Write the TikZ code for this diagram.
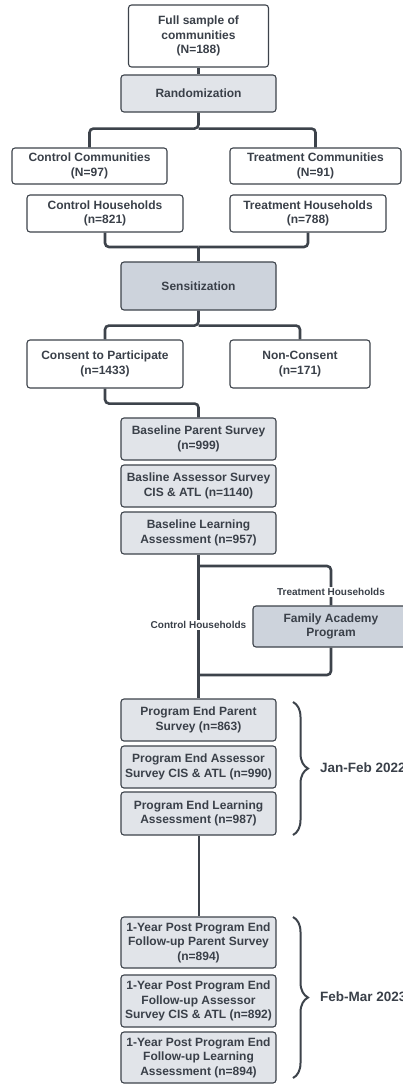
\documentclass[tikz,border=0pt]{standalone}
\usepackage{fontspec}
\setmainfont{Liberation Sans}
\usetikzlibrary{decorations.pathreplacing}
\definecolor{txt}{HTML}{3A4049}
\definecolor{edge}{HTML}{3D434B}
\definecolor{lightfill}{HTML}{E1E4E9}
\definecolor{darkfill}{HTML}{CDD3DC}
\tikzset{
  box/.style={draw=edge, line width=1.1pt, rounded corners=3pt, fill=white, text=txt,
    font=\bfseries\fontsize{12}{14.5}\selectfont, align=center, inner sep=0pt},
  lbox/.style={box, fill=lightfill},
  dbox/.style={box, fill=darkfill},
  conn/.style={draw=edge, line width=2.6pt, rounded corners=4pt},
  thinconn/.style={draw=edge, line width=2pt},
  lbl/.style={fill=white, text=txt, font=\bfseries\fontsize{10}{12}\selectfont, inner sep=1pt},
  period/.style={text=txt, font=\bfseries\fontsize{13.5}{16}\selectfont, anchor=west, inner sep=0pt},
  brc/.style={draw=edge, line width=2pt, decorate, decoration={brace, amplitude=15pt}}
}
\begin{document}
\begin{tikzpicture}[x=1pt, y=-1pt]
\useasboundingbox (0,0) rectangle (403,1084);
\fill[white] (0,0) rectangle (403,1084);

% nodes
\node[box, minimum width=140pt, minimum height=62pt] (full) at (198.5,36) {Full sample of\\communities\\(N=188)};
\node[lbox, minimum width=155pt, minimum height=37pt] (rand) at (198.5,93.5) {Randomization};
\node[box, minimum width=155pt, minimum height=36pt] (cc) at (89.5,166) {Control Communities\\(N=97)};
\node[box, minimum width=171pt, minimum height=36pt] (tc) at (315.5,166) {Treatment Communities\\(N=91)};
\node[box, minimum width=156pt, minimum height=37pt] (ch) at (105,213.5) {Control Households\\(n=821)};
\node[box, minimum width=156pt, minimum height=37pt] (th) at (308,213.5) {Treatment Households\\(n=788)};
\node[dbox, minimum width=155pt, minimum height=48pt] (sens) at (198.5,286) {Sensitization};
\node[box, minimum width=156pt, minimum height=48pt] (cons) at (105,364) {Consent to Participate\\(n=1433)};
\node[box, minimum width=140pt, minimum height=48pt] (nonc) at (300,364) {Non-Consent\\(n=171)};
\node[lbox, minimum width=155pt, minimum height=42pt] (bp) at (198.5,439) {Baseline Parent Survey\\(n=999)};
\node[lbox, minimum width=155pt, minimum height=42pt] (ba) at (198.5,486) {Basline Assessor Survey\\CIS \& ATL (n=1140)};
\node[lbox, minimum width=155pt, minimum height=42pt] (bl) at (198.5,533) {Baseline Learning\\Assessment (n=957)};
\node[dbox, minimum width=156pt, minimum height=41pt] (fa) at (331,626.5) {Family Academy\\Program};
\node[lbox, minimum width=155pt, minimum height=42pt] (pep) at (198.5,720) {Program End Parent\\Survey (n=863)};
\node[lbox, minimum width=155pt, minimum height=42pt] (pea) at (198.5,767) {Program End Assessor\\Survey CIS \& ATL (n=990)};
\node[lbox, minimum width=155pt, minimum height=43pt] (pel) at (198.5,813.5) {Program End Learning\\Assessment (n=987)};
\node[lbox, minimum width=155pt, minimum height=51pt] (fu1) at (198.5,942.5) {1-Year Post Program End\\Follow-up Parent Survey\\(n=894)};
\node[lbox, minimum width=155pt, minimum height=52pt] (fu2) at (198.5,1001) {1-Year Post Program End\\Follow-up Assessor\\Survey CIS \& ATL (n=892)};
\node[lbox, minimum width=155pt, minimum height=51pt] (fu3) at (198.5,1057.5) {1-Year Post Program End\\Follow-up Learning\\Assessment (n=894)};

% connectors
\draw[conn] (full.south) -- (rand.north);
\draw[conn] (rand.south) -- ++(0,16) coordinate (rj) -| (cc.north);
\draw[conn] (rj) -| (tc.north);

\coordinate (hj) at (198.5,247);
\draw[conn] (ch.south) |- (hj);
\draw[conn] (th.south) |- (hj);
\draw[conn] (hj) -- (sens.north);

\draw[conn] (sens.south) -- ++(0,15) coordinate (sj) -| (cons.north);
\draw[conn] (sj) -| (nonc.north);

\draw[conn] (cons.south) -- ++(0,15) -| (bp.north);

\draw[conn] (bl.south) -- (pep.north);
\coordinate (tb) at (198.5,566);
\draw[conn] (tb) -| (fa.north);
\coordinate (mj) at (198.5,675);
\draw[conn] (fa.south) |- (mj);

\node[lbl] (tlab) at (331,592) {Treatment Households};
\node[lbl] (clab) at (198.5,625) {Control Households};

\draw[thinconn] (pel.south) -- (fu1.north);

% braces
\coordinate (b1t) at (293,702);
\coordinate (b1b) at (293,835);
\draw[brc] (b1t) -- (b1b);
\node[period] (p1) at (320,768) {Jan-Feb 2022};
\coordinate (b2t) at (293,917);
\coordinate (b2b) at (293,1078);
\draw[brc] (b2t) -- (b2b);
\node[period] (p2) at (320,997) {Feb-Mar 2023};
\end{tikzpicture}
\end{document}
